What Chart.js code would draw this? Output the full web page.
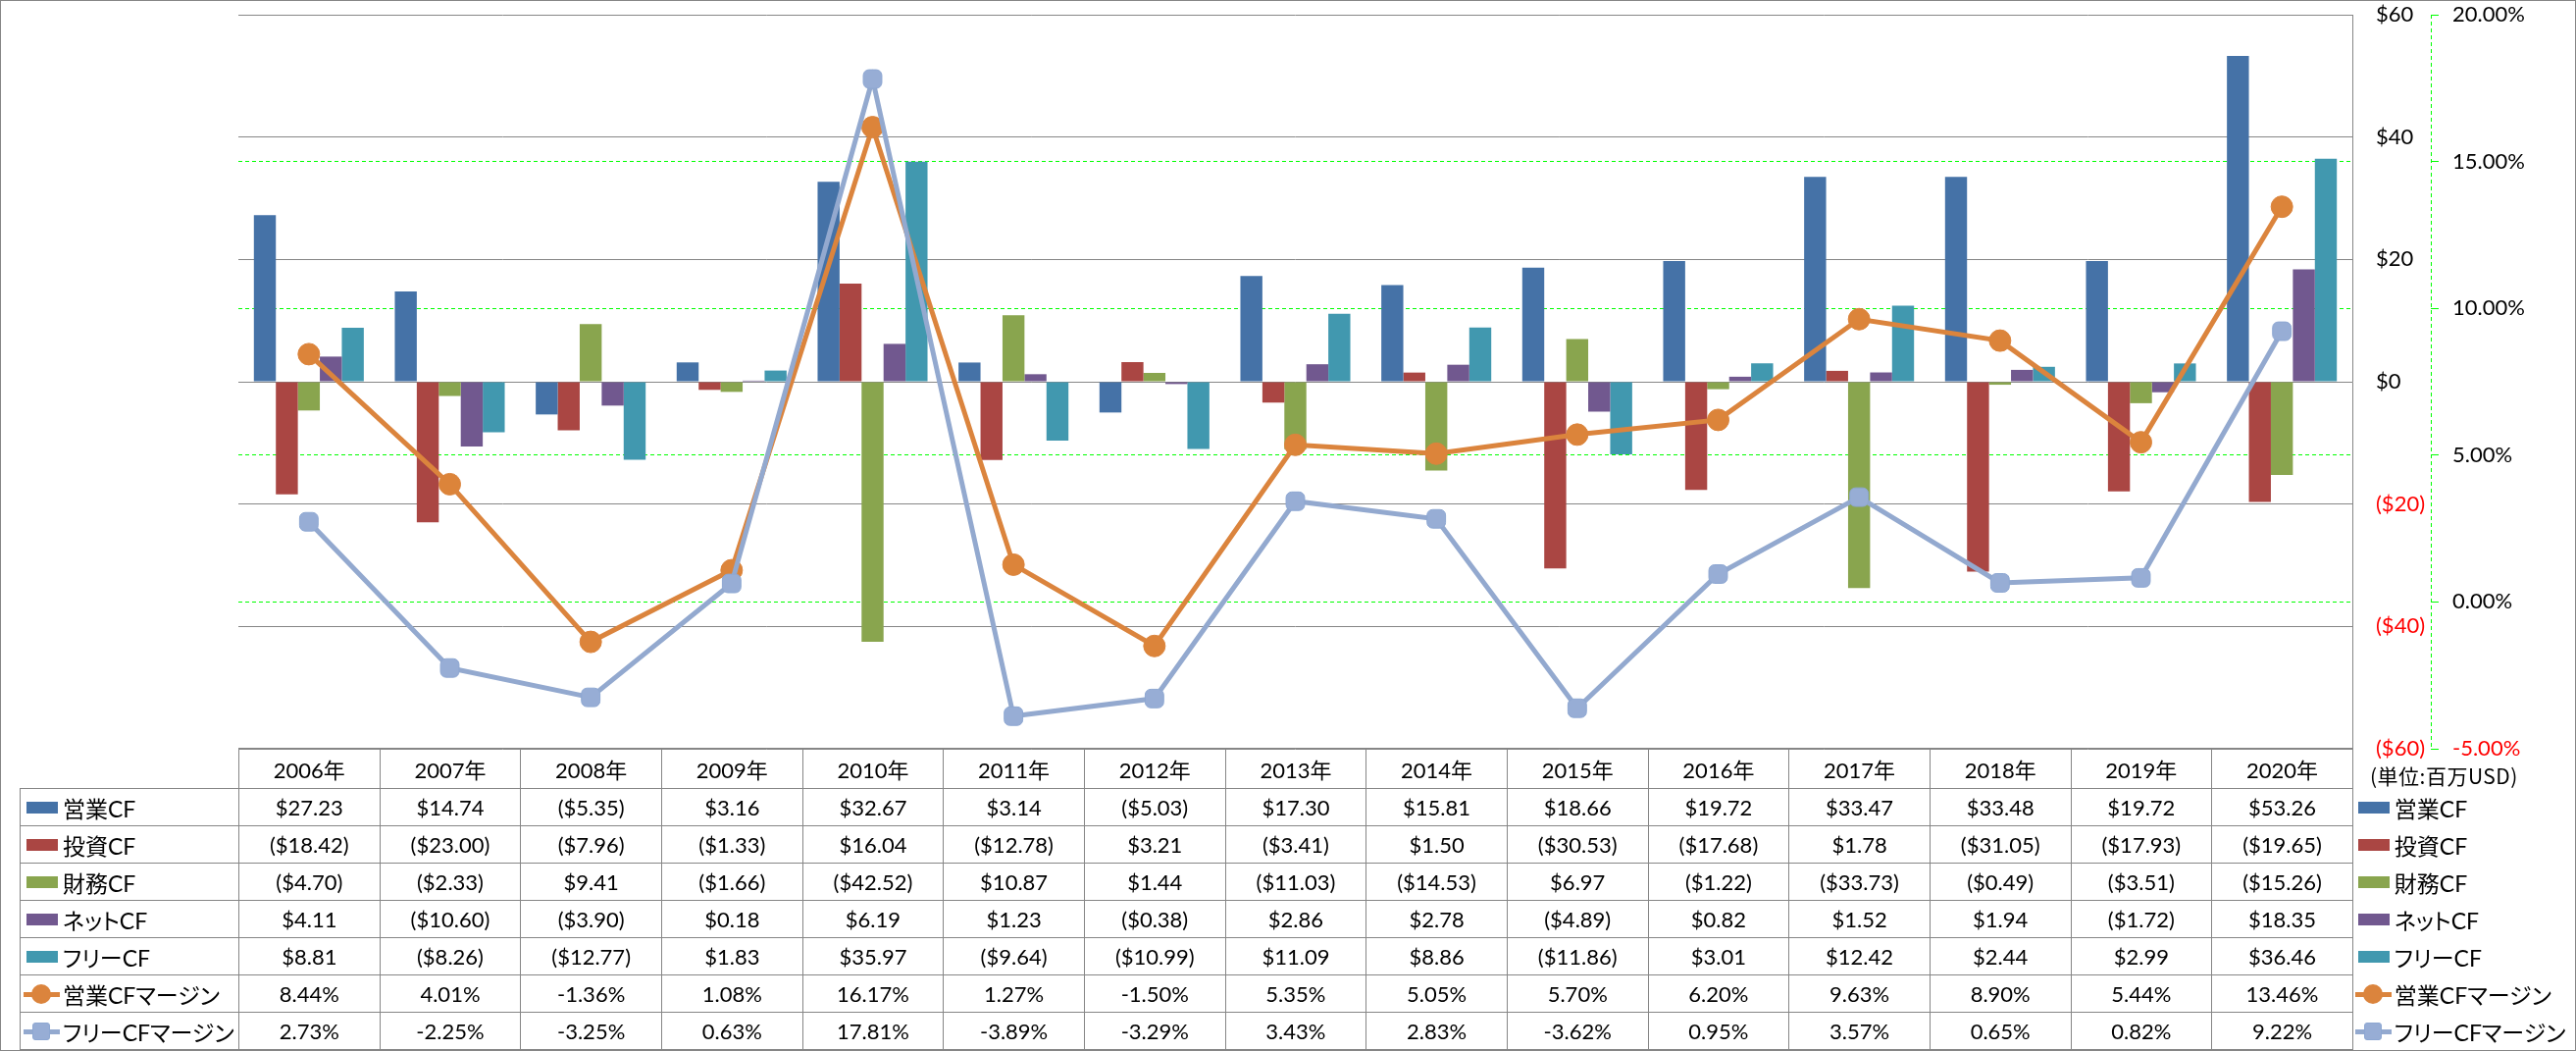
<!DOCTYPE html>
<html>
<head>
<meta charset="utf-8">
<script src="https://cdn.jsdelivr.net/npm/chart.js@4.4.1/dist/chart.umd.min.js"></script>
<style>
  body { margin: 0; background: #fff; }
  #wrap { position: relative; width: 2626px; height: 1071px; overflow: hidden; font-family: Lato, "Noto Sans CJK JP", sans-serif; }
  #chart { position: absolute; left: 0; top: 0; }
  #frame { position: absolute; left: 0; top: 0; width: 2626px; height: 1071px; box-sizing: border-box; border: 1px solid #868686; pointer-events: none; }
  #unit { position: absolute; left: 2416px; top: 776px; font: 21px "Noto Sans CJK JP", sans-serif; line-height: 28px; color: #000; white-space: nowrap; letter-spacing: 0.5px; }
  table { position: absolute; left: 20px; top: 762px; border-collapse: collapse; table-layout: fixed; font-size: 22px; color: #000; }
  td { border: 1px solid #868686; text-align: center; padding: 0; white-space: nowrap; overflow: hidden; }
  tr.head td { height: 40px; }
  tr.row td { height: 37px; }
  td.blank { border: none; }
  td.name { text-align: left; padding-left: 3px; }
  td.side { border: none; text-align: left; padding-left: 2px; }
  .lab { display: flex; align-items: center; }
  .key { position: relative; width: 37px; height: 22px; flex: none; }
  .bar { position: absolute; left: 3px; top: 5px; width: 32px; height: 12px; }
  .line { position: absolute; left: 0; top: 9px; width: 37px; height: 5px; }
  .dot { position: absolute; left: 8px; top: 1px; width: 20px; height: 20px; border-radius: 50%; }
  .sq { position: absolute; left: 9px; top: 2px; width: 16px; height: 16px; border-radius: 3px; border: 1px solid #8DA7D2; }
  .txt { margin-left: 3px; font-size: 23px; font-feature-settings: "palt"; }
</style>
</head>
<body>
<div id="wrap">
  <canvas id="chart" width="2626" height="1071"></canvas>
  <table id="tbl"></table>
  <div id="unit">(単位:百万USD)</div>
  <div id="frame"></div>
</div>
<script>
const years = ["2006年", "2007年", "2008年", "2009年", "2010年", "2011年", "2012年", "2013年", "2014年", "2015年", "2016年", "2017年", "2018年", "2019年", "2020年"]

const operatingCF = [27.23, 14.74, -5.35, 3.16, 32.67, 3.14, -5.03, 17.30, 15.81, 18.66, 19.72, 33.47, 33.48, 19.72, 53.26]
const investingCF = [-18.42, -23.00, -7.96, -1.33, 16.04, -12.78, 3.21, -3.41, 1.50, -30.53, -17.68, 1.78, -31.05, -17.93, -19.65]
const financingCF = [-4.70, -2.33, 9.41, -1.66, -42.52, 10.87, 1.44, -11.03, -14.53, 6.97, -1.22, -33.73, -0.49, -3.51, -15.26]
const netCF = [4.11, -10.60, -3.90, 0.18, 6.19, 1.23, -0.38, 2.86, 2.78, -4.89, 0.82, 1.52, 1.94, -1.72, 18.35]
const freeCF = [8.81, -8.26, -12.77, 1.83, 35.97, -9.64, -10.99, 11.09, 8.86, -11.86, 3.01, 12.42, 2.44, 2.99, 36.46]
const operatingMargin = [8.44, 4.01, -1.36, 1.08, 16.17, 1.27, -1.50, 5.35, 5.05, 5.70, 6.20, 9.63, 8.90, 5.44, 13.46]
const freeMargin = [2.73, -2.25, -3.25, 0.63, 17.81, -3.89, -3.29, 3.43, 2.83, -3.62, 0.95, 3.57, 0.65, 0.82, 9.22]

const usdTicks = { min: -60, max: 60, step: 20 }
const pctTicks = { min: -5, max: 20, step: 5 }

const series = [
  { label: "営業CF", data: operatingCF, color: "#4572A7", kind: "bar" },
  { label: "投資CF", data: investingCF, color: "#AA4643", kind: "bar" },
  { label: "財務CF", data: financingCF, color: "#89A54E", kind: "bar" },
  { label: "ネットCF", data: netCF, color: "#71588F", kind: "bar" },
  { label: "フリーCF", data: freeCF, color: "#4198AF", kind: "bar" },
  { label: "営業CFマージン", data: operatingMargin, color: "#DB843D", kind: "dot" },
  { label: "フリーCFマージン", data: freeMargin, color: "#93A9CF", kind: "sq" }
]

const font = { family: "Lato, 'Noto Sans CJK JP', sans-serif", size: 22 }
const red = "#FF0000"
const green = "#00FF00"
const gray = "#868686"

function usd(v) {
  return v < 0 ? "($" + Math.abs(v).toFixed(2) + ")" : "$" + v.toFixed(2)
}

function pct(v) {
  return v.toFixed(2) + "%"
}

const datasets = series.map((s) => {
  if (s.kind === "bar") {
    return {
      type: "bar", label: s.label, data: s.data, yAxisID: "y",
      backgroundColor: s.color, borderWidth: 0,
      barPercentage: 1, categoryPercentage: 0.78, order: 2
    }
  }
  return {
    type: "line", label: s.label, data: s.data, yAxisID: "y1",
    borderColor: s.color, borderWidth: 5, tension: 0,
    pointStyle: s.kind === "dot" ? "circle" : "rectRounded",
    pointRadius: 11, pointBackgroundColor: s.kind === "dot" ? "#DC843A" : "#97ADD5",
    pointBorderColor: s.kind === "dot" ? "#DB843D" : "#8DA7D2", pointBorderWidth: 1,
    order: s.kind === "dot" ? 1 : 0
  }
})

// dashed green line for the percent axis
const pctAxisLine = {
  id: "pctAxisLine",
  afterDatasetsDraw(chart) {
    const s = chart.scales.y1
    const ctx = chart.ctx
    ctx.save()
    ctx.strokeStyle = green
    ctx.lineWidth = 1
    ctx.setLineDash([4, 3])
    ctx.beginPath()
    ctx.moveTo(s.left + 0.5, s.top)
    ctx.lineTo(s.left + 0.5, s.bottom)
    ctx.stroke()
    ctx.restore()
  }
}

// keep the tick padding from pushing the plot area down
function fitRight(width) {
  return (s) => {
    s.width = width
    s.paddingTop = 0
    s.paddingBottom = 0
  }
}

const chart = new Chart(document.getElementById("chart"), {
  data: { labels: years, datasets: datasets },
  plugins: [pctAxisLine],
  options: {
    responsive: false,
    animation: false,
    devicePixelRatio: 1,
    layout: { padding: { left: 243, top: 15, right: 0, bottom: 308 } },
    plugins: { legend: { display: false }, tooltip: { enabled: false } },
    scales: {
      x: { display: false },
      y: {
        position: "right", weight: 0,
        min: usdTicks.min, max: usdTicks.max,
        afterFit: fitRight(80),
        ticks: {
          stepSize: usdTicks.step, padding: 24, font: font,
          color: (c) => c.tick && c.tick.value < 0 ? red : "#000",
          callback: (v) => v < 0 ? "($" + Math.abs(v) + ")" : "$" + v
        },
        grid: { color: gray, lineWidth: 1, drawTicks: false },
        border: { display: true, color: gray, width: 1 }
      },
      y1: {
        position: "right", weight: 1,
        min: pctTicks.min, max: pctTicks.max,
        afterFit: fitRight(148),
        ticks: {
          stepSize: pctTicks.step, padding: 14, font: font,
          color: (c) => c.tick && c.tick.value < 0 ? red : "#000",
          callback: (v) => pct(v)
        },
        grid: {
          lineWidth: 1, tickLength: 8, tickColor: green,
          color: (c) => c.tick && (c.tick.value === pctTicks.max || c.tick.value === pctTicks.min) ? "rgba(0,0,0,0)" : green
        },
        border: { display: false, dash: [4, 3] }
      }
    }
  }
})

function keyHtml(s) {
  if (s.kind === "bar") return '<span class="key"><span class="bar" style="background:' + s.color + '"></span></span>'
  const mark = s.kind === "dot"
    ? '<span class="dot" style="background:' + s.color + '"></span>'
    : '<span class="sq" style="background:#97ADD5"></span>'
  return '<span class="key"><span class="line" style="background:' + s.color + '"></span>' + mark + '</span>'
}

function buildTable() {
  const area = chart.chartArea
  const colW = (area.right - area.left) / years.length
  const nameW = area.left - 20
  const sideW = 2626 - area.right
  let html = '<colgroup><col style="width:' + nameW + 'px">'
  years.forEach(() => { html += '<col style="width:' + colW + 'px">' })
  html += '<col style="width:' + sideW + 'px"></colgroup>'
  html += '<tr class="head"><td class="blank"></td>'
  years.forEach((y) => { html += "<td>" + y + "</td>" })
  html += '<td class="blank"></td></tr>'
  series.forEach((s) => {
    const lab = '<div class="lab">' + keyHtml(s) + '<span class="txt">' + s.label + "</span></div>"
    html += '<tr class="row"><td class="name">' + lab + "</td>"
    s.data.forEach((v) => { html += "<td>" + (s.kind === "bar" ? usd(v) : pct(v)) + "</td>" })
    html += '<td class="side">' + lab + "</td></tr>"
  })
  const tbl = document.getElementById("tbl")
  tbl.style.width = (nameW + colW * years.length + sideW) + "px"
  tbl.innerHTML = html
}

buildTable()
</script>
</body>
</html>
